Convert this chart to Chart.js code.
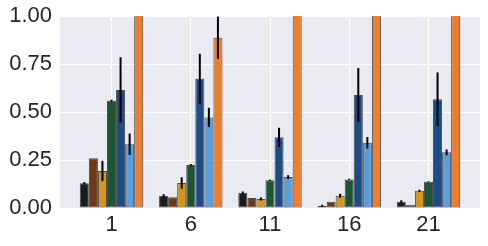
<!DOCTYPE html>
<html>
<head>
<meta charset="utf-8">
<script src="https://cdn.jsdelivr.net/npm/chart.js@4/dist/chart.umd.min.js"></script>
<style>
html,body{margin:0;padding:0;background:#fff;}
#wrap{width:488px;height:246px;position:relative;}
</style>
</head>
<body>
<div id="wrap"><canvas id="c" width="488" height="246"></canvas></div>
<script>
const categories = [1, 6, 11, 16, 21];
const yTicks = [0, 0.25, 0.5, 0.75, 1.0];

const seriesBlack     = [0.129, 0.064, 0.080, 0.012, 0.033];
const seriesBrown     = [0.259, 0.056, 0.052, 0.033, 0.017];
const seriesGold      = [0.193, 0.130, 0.047, 0.064, 0.090];
const seriesGreen     = [0.559, 0.224, 0.144, 0.149, 0.137];
const seriesDarkBlue  = [0.615, 0.673, 0.368, 0.589, 0.566];
const seriesLightBlue = [0.332, 0.472, 0.161, 0.340, 0.290];
const seriesOrange    = [1.20, 0.887, 1.20, 1.20, 1.20];

const errBlack     = [0.006, 0.008, 0.006, 0.005, 0.007];
const errBrown     = [0, 0, 0, 0, 0];
const errGold      = [0.053, 0.030, 0.008, 0.010, 0.005];
const errGreen     = [0.005, 0.005, 0.003, 0.003, 0.002];
const errDarkBlue  = [0.170, 0.130, 0.050, 0.140, 0.140];
const errLightBlue = [0.056, 0.050, 0.010, 0.030, 0.015];
const errOrange    = [0, 0.110, 0, 0, 0];

const seriesList = [
  {v: seriesBlack, e: errBlack, c: '#1c1c1c'},
  {v: seriesBrown, e: errBrown, c: '#6b3916'},
  {v: seriesGold, e: errGold, c: '#d4961c'},
  {v: seriesGreen, e: errGreen, c: '#1d5532'},
  {v: seriesDarkBlue, e: errDarkBlue, c: '#1c4b85'},
  {v: seriesLightBlue, e: errLightBlue, c: '#5a9edb'},
  {v: seriesOrange, e: errOrange, c: '#ef7d2e'}
];

const datasets = seriesList.map(s => ({
  data: categories.map((x, i) => ({x: x, y: s.v[i]})),
  backgroundColor: s.c,
  borderColor: 'rgba(50,50,50,0.85)',
  borderWidth: 1,
  borderSkipped: false,
  categoryPercentage: 0.8,
  barPercentage: 1.0,
  errs: s.e
}));

const bgPlugin = {
  id: 'bg',
  beforeDraw(chart) {
    const a = chart.chartArea, ctx = chart.ctx;
    ctx.save();
    ctx.fillStyle = '#eaeaf2';
    ctx.fillRect(a.left, a.top, a.right - a.left, a.bottom - a.top);
    ctx.restore();
  }
};

const errPlugin = {
  id: 'errbars',
  afterDatasetsDraw(chart) {
    const ctx = chart.ctx, a = chart.chartArea, ys = chart.scales.y;
    ctx.save();
    ctx.beginPath();
    ctx.rect(a.left, a.top, a.right - a.left, a.bottom - a.top);
    ctx.clip();
    ctx.strokeStyle = '#000';
    ctx.lineWidth = 2;
    chart.data.datasets.forEach((ds, i) => {
      const meta = chart.getDatasetMeta(i);
      meta.data.forEach((el, j) => {
        const e = ds.errs[j];
        if (!e) return;
        const v = ds.data[j].y;
        const x = el.x;
        ctx.beginPath();
        ctx.moveTo(x, ys.getPixelForValue(v - e));
        ctx.lineTo(x, ys.getPixelForValue(v + e));
        ctx.stroke();
      });
    });
    ctx.restore();
  }
};

const tickFont = {family: '"Liberation Sans", Arial, sans-serif', size: 22};

new Chart(document.getElementById('c'), {
  type: 'bar',
  data: {datasets: datasets},
  plugins: [bgPlugin, errPlugin],
  options: {
    responsive: false,
    animation: false,
    layout: {padding: {top: 16, right: 8, left: 0, bottom: 0}},
    plugins: {legend: {display: false}, tooltip: {enabled: false}},
    scales: {
      x: {
        type: 'linear',
        min: -2.25,
        max: 24.25,
        offset: false,
        afterBuildTicks: s => { s.ticks = categories.map(v => ({value: v})); },
        afterFit: s => { s.height = 38; s.paddingLeft = 0; s.paddingRight = 0; },
        ticks: {autoSkip: false, maxRotation: 0, callback: v => String(v), font: tickFont, color: '#262626', padding: 4},
        grid: {color: '#ffffff', lineWidth: 1, drawTicks: false, offset: false},
        border: {display: false}
      },
      y: {
        min: 0,
        max: 1,
        afterBuildTicks: s => { s.ticks = yTicks.map(v => ({value: v})); },
        afterFit: s => { s.width = 60; s.paddingTop = 0; s.paddingBottom = 0; },
        ticks: {callback: v => Number(v).toFixed(2), font: tickFont, color: '#262626', padding: 8},
        grid: {color: '#ffffff', lineWidth: 1, drawTicks: false},
        border: {display: false}
      }
    }
  }
});
</script>
</body>
</html>
